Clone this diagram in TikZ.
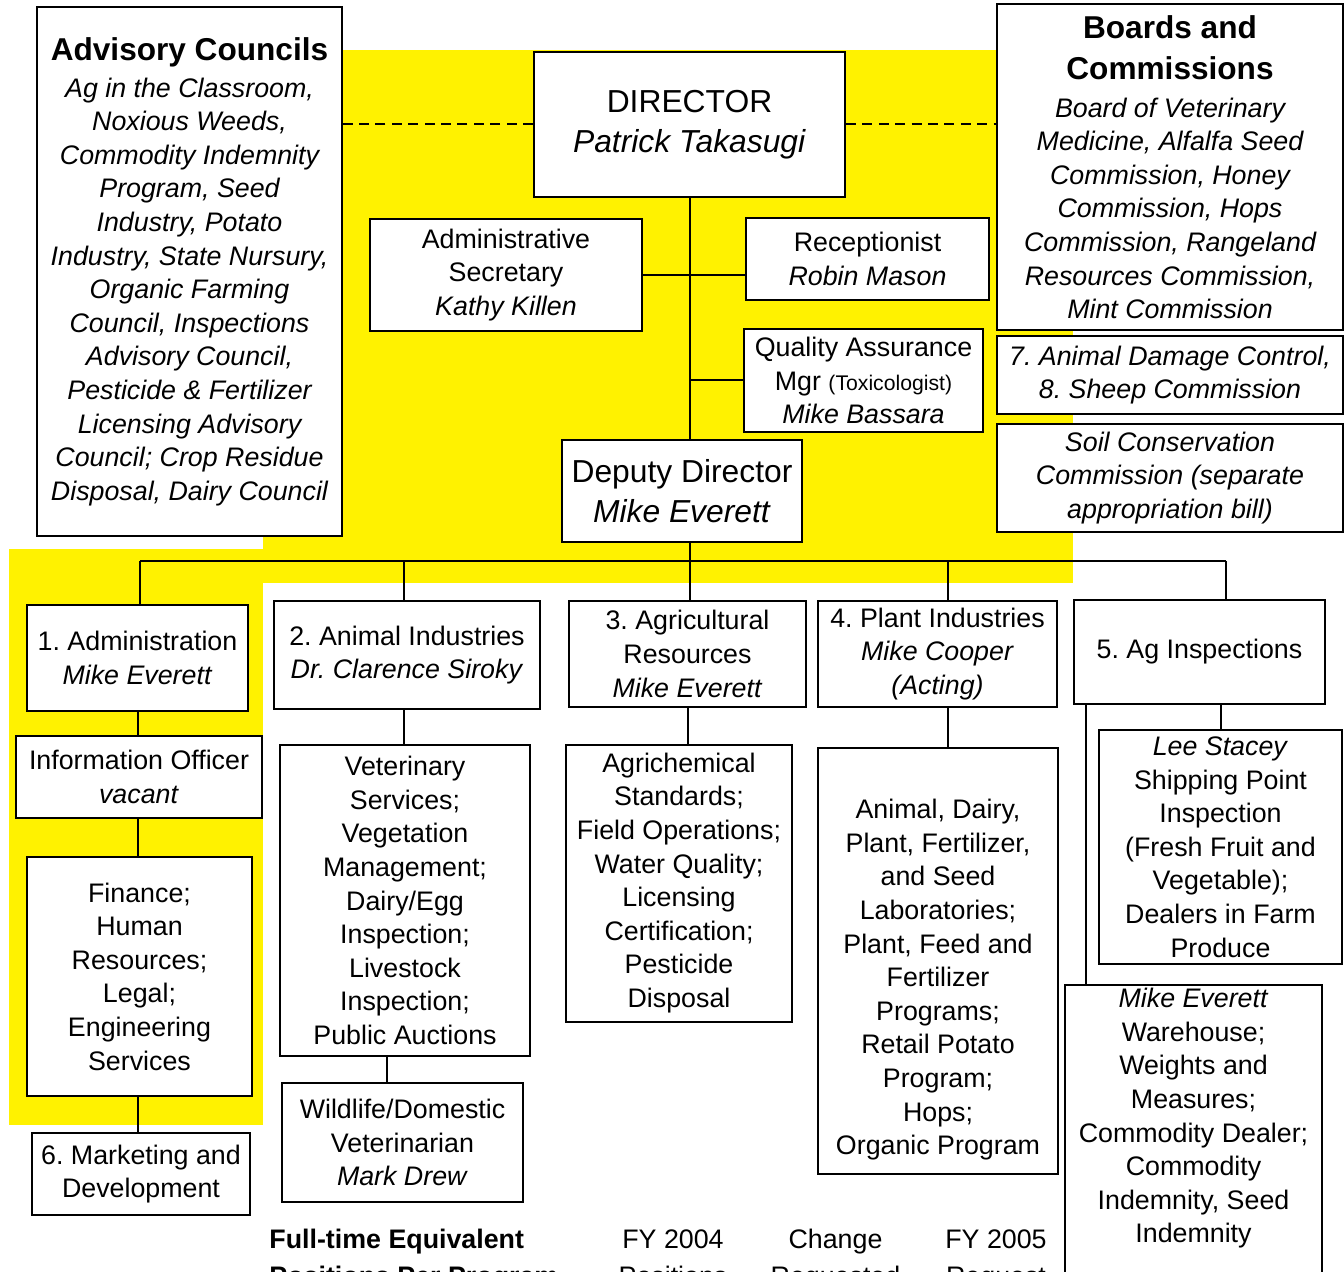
\documentclass[tikz,border=0pt]{standalone}
\usepackage{fontspec}
\setmainfont{Liberation Sans}
\frenchspacing
\newcommand\bodyfont{\fontsize{13.4}{16.8}\selectfont}
\newcommand\headfont{\fontsize{15.8}{20}\selectfont}
\newcommand\bigfont{\fontsize{15.9}{20}\selectfont}
\tikzset{
  box/.style={draw,line width=1pt,fill=white,align=center,inner sep=0pt,font=\bodyfont},
  ital/.style={box,font=\bodyfont\itshape},
  link/.style={line width=1pt},
}
\begin{document}
\begin{tikzpicture}[x=0.5pt,y=-0.5pt]
  \useasboundingbox (0,0) rectangle (1344,1272);
  % office of the director
  \fill[yellow] (263,50) rectangle (1073,583);
  \fill[yellow] (9,549) rectangle (263,1125);
  \node[ital,minimum width=152.5pt,minimum height=264.5pt] (adv) at (189.5,271.5)
    {{\headfont\bfseries\upshape Advisory Councils}\\[1.7pt]Ag in the Classroom,\\Noxious Weeds,\\Commodity Indemnity\\Program, Seed\\Industry, Potato\\Industry, State Nursury,\\Organic Farming\\Council, Inspections\\Advisory Council,\\Pesticide \& Fertilizer\\Licensing Advisory\\Council; Crop Residue\\Disposal, Dairy Council};
  \node[ital,minimum width=173pt,minimum height=163pt] (brd) at (1170,167)
    {{\headfont\bfseries\upshape Boards and}\\[3.7pt]{\headfont\bfseries\upshape Commissions}\\[2.2pt]Board of Veterinary\\Medicine, Alfalfa Seed\\Commission, Honey\\Commission, Hops\\Commission, Rangeland\\Resources Commission,\\Mint Commission};
  \node[ital,minimum width=173pt,minimum height=39pt] (dmg) at (1170,375)
    {7. Animal Damage Control,\\8. Sheep Commission};
  \node[ital,minimum width=173pt,minimum height=54pt] (soil) at (1170,478)
    {Soil Conservation\\Commission (separate\\appropriation bill)};
  \node[box,font=\bigfont,minimum width=155.5pt,minimum height=72.5pt] (dir) at (689.5,124.5)
    {DIRECTOR\\\textit{Patrick Takasugi}};
  \node[box,minimum width=136pt,minimum height=56pt] (sec) at (506,275)
    {Administrative\\Secretary\\\textit{Kathy Killen}};
  \node[box,minimum width=121.5pt,minimum height=41pt] (rec) at (867.5,259)
    {Receptionist\\\textit{Robin Mason}};
  \node[box,minimum width=119.5pt,minimum height=51.5pt] (qa) at (863.5,380.5)
    {Quality Assurance\\Mgr {\fontsize{10.6}{12}\selectfont(Toxicologist)}\\\textit{Mike Bassara}};
  \node[box,font=\bigfont,minimum width=120pt,minimum height=51pt] (dep) at (682,491)
    {Deputy Director\\\textit{Mike Everett}};
  % programs
  \node[box,minimum width=110.5pt,minimum height=53pt] (adm) at (137.5,658)
    {1. Administration\\\textit{Mike Everett}};
  \node[box,minimum width=133pt,minimum height=54pt] (ani) at (407,655)
    {2. Animal Industries\\\textit{Dr. Clarence Siroky}};
  \node[box,minimum width=118.5pt,minimum height=53pt] (agr) at (687.5,654)
    {3. Agricultural\\Resources\\\textit{Mike Everett}};
  \node[box,minimum width=119.5pt,minimum height=53pt] (pla) at (937.5,654)
    {4. Plant Industries\\\textit{Mike Cooper}\\\textit{(Acting)}};
  \node[box,minimum width=125.5pt,minimum height=52pt] (insp) at (1199.5,652)
    {5. Ag Inspections};
  % sections
  \node[box,minimum width=123pt,minimum height=41pt] (info) at (139,777)
    {Information Officer\\\textit{vacant}};
  \node[box,minimum width=112.5pt,minimum height=119.5pt] (fin) at (139.5,976.5)
    {Finance;\\Human\\Resources;\\Legal;\\Engineering\\Services};
  \node[box,minimum width=109pt,minimum height=41pt] (mkt) at (141,1174)
    {6. Marketing and\\Development};
  \node[box,minimum width=125pt,minimum height=155.5pt] (anisub) at (405,900.5)
    {Veterinary\\Services;\\Vegetation\\Management;\\Dairy/Egg\\Inspection;\\Livestock\\Inspection;\\Public Auctions};
  \node[box,minimum width=120.5pt,minimum height=59.5pt] (wild) at (402.5,1142.5)
    {Wildlife/Domestic\\Veterinarian\\\textit{Mark Drew}};
  \node[box,minimum width=113pt,minimum height=138.5pt] (agsub) at (679,883)
    {Agrichemical\\Standards;\\Field Operations;\\Water Quality;\\Licensing\\Certification;\\Pesticide\\Disposal};
  \node[box,minimum width=120pt,minimum height=213pt] (plasub) at (938,961)
    {\strut\\Animal, Dairy,\\Plant, Fertilizer,\\and Seed\\Laboratories;\\Plant, Feed and\\Fertilizer\\Programs;\\Retail Potato\\Program;\\Hops;\\Organic Program};
  \node[box,minimum width=121.5pt,minimum height=117pt] (lee) at (1220.5,847)
    {\textit{Lee Stacey}\\Shipping Point\\Inspection\\(Fresh Fruit and\\Vegetable);\\Dealers in Farm\\Produce};
  \node[box,minimum width=128.5pt,minimum height=152.5pt] (mike) at (1193.5,1137.5)
    {\textit{Mike Everett}\\Warehouse;\\Weights and\\Measures;\\Commodity Dealer;\\Commodity\\Indemnity, Seed\\Indemnity\\\strut};
  % reporting lines
  \draw[link,dash pattern=on 5pt off 3.2pt] (dir.west) -- (dir.west -| adv.east);
  \draw[link,dash pattern=on 5pt off 3.2pt] (dir.east) -- (dir.east -| brd.west);
  \draw[link] (dir.south) -- (dir.south |- dep.north);
  \draw[link] (sec.east) -- (sec.east -| rec.west);
  \draw[link] (qa.west) -- (qa.west -| dir.south);
  \foreach \n/\x in {adm/140,ani/404,agr/690,pla/948,insp/1226}{
    \coordinate (b-\n) at (\x,561);
    \draw[link] (b-\n) -- (b-\n |- \n.north);
  }
  \draw[link] (b-adm) -- (b-insp);
  \draw[link] (dep.south -| b-agr) -- (b-agr);
  \draw[link] (adm.south) -- (adm.south |- info.north);
  \draw[link] (adm.south |- info.south) -- (adm.south |- fin.north);
  \draw[link] (adm.south |- fin.south) -- (adm.south |- mkt.north);
  \draw[link] (b-ani |- ani.south) -- (b-ani |- anisub.north);
  \draw[link] ([xshift=53pt]wild.north west) -- ([xshift=53pt]wild.north west |- anisub.south);
  \draw[link] (agr.south) -- (agr.south |- agsub.north);
  \draw[link] (b-pla |- pla.south) -- (b-pla |- plasub.north);
  \draw[link] (lee.north) -- (lee.north |- insp.south);
  \draw[link] ([xshift=11pt]mike.north west) -- ([xshift=11pt]mike.north west |- insp.south);
  % staffing table
  \foreach \y/\a/\b/\c/\d in {1248.5/Full-time Equivalent/FY 2004/Change/FY 2005,1285/Positions Per Program/Positions/Requested/Request}{
    \node[inner sep=0pt,anchor=base west,font=\bodyfont\bfseries] at (269,\y) {\a};
    \node[inner sep=0pt,anchor=base,font=\bodyfont] at (673,\y) {\b};
    \node[inner sep=0pt,anchor=base,font=\bodyfont] at (835.5,\y) {\c};
    \node[inner sep=0pt,anchor=base,font=\bodyfont] at (996,\y) {\d};
  }
\end{tikzpicture}
\end{document}
